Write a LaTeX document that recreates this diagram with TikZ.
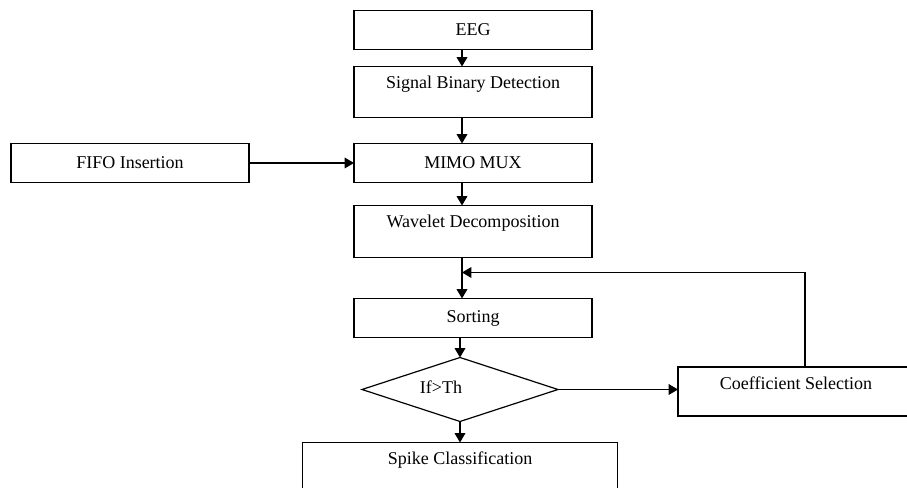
\documentclass[tikz,border=0pt]{standalone}
\usepackage{fontspec}
\setmainfont{Liberation Serif}
\usetikzlibrary{arrows.meta,positioning,shapes.geometric}

\begin{document}
\begin{tikzpicture}[
  x=0.75pt, y=-0.75pt,
  font=\fontsize{13.5}{16}\selectfont,
  box/.style={draw,line width=0.9pt,inner sep=0pt,outer sep=0pt,minimum width=178.5pt,minimum height=29.25pt},
  topbox/.style={box,text height=16.5pt,text depth=#1},
  decision/.style={draw,diamond,line width=0.9pt,inner sep=0pt,outer sep=0pt,minimum width=147pt,minimum height=48pt},
  arr/.style={-{Triangle[length=7pt,width=8pt]},line width=0.9pt}
]
\useasboundingbox (0,0) rectangle (907,488);
\clip (0,0) rectangle (907,488);
\node[box] (eeg) at (473,30) {EEG};
\node[topbox=21.75pt,below=12.75pt of eeg] (sbd) {Signal Binary Detection};
\node[box,below=19.5pt of sbd] (mux) {MIMO MUX};
\node[box,left=78.75pt of mux] (fifo) {FIFO Insertion};
\node[topbox=22.5pt,below=17.25pt of mux,text height=16.5pt] (wav) {Wavelet Decomposition};
\node[box,below=30.75pt of wav] (sort) {Sorting};
\node[decision,below=15pt of sort,xshift=-9.75pt,
  label={[xshift=-14.25pt,yshift=1.5pt,name=thtext]center:If>Th}] (dec) {};
\node[topbox=30pt,minimum width=236.25pt,below=15.75pt of dec] (spike) {Spike Classification};
\node[topbox=20.25pt,minimum width=177pt,right=90pt of dec,yshift=-1.5pt] (coef) {Coefficient Selection};
\coordinate (join) at ([shift={(-8.25pt,-11.25pt)}]wav.south);
% main column
\foreach \a/\b in {eeg/sbd,sbd/mux,mux/wav,wav/sort}
  \draw[arr] ([xshift=-8.25pt]\a.south) -- ([xshift=-8.25pt]\b.north);
\draw[arr] (fifo) -- (mux);
\draw[arr] (sort.south -| dec) -- (dec.north);
\draw[arr] (dec.south) -- (spike.north -| dec.south);
\draw[arr] (dec.east) -- (dec.east -| coef.west);
% feedback
\draw[arr] ([xshift=6.75pt]coef.north) |- (join);
\end{tikzpicture}
\end{document}
